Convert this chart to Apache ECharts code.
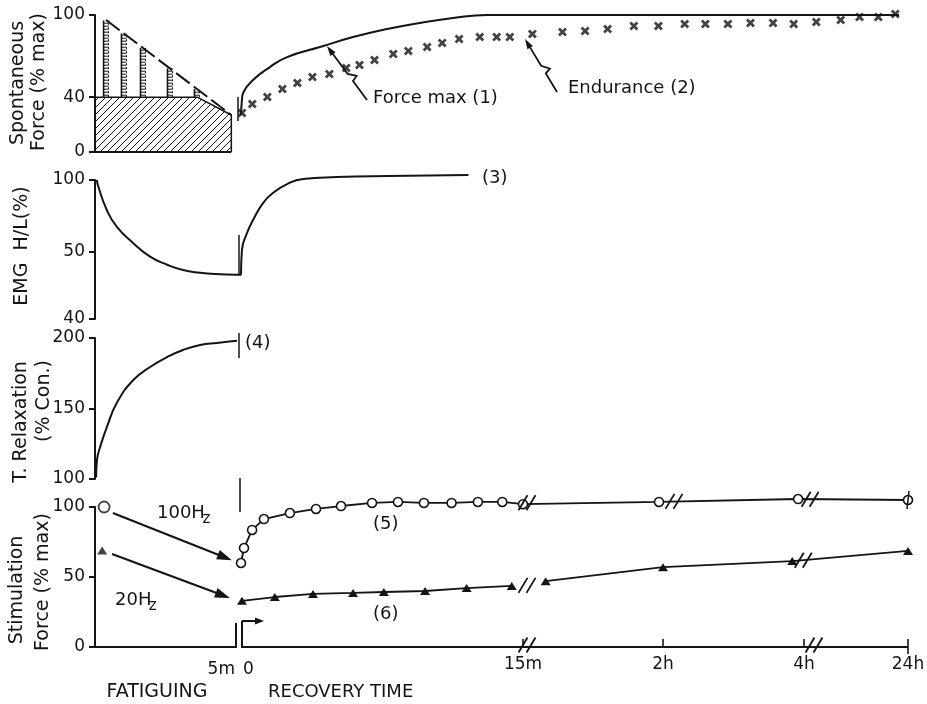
<!DOCTYPE html>
<html><head><meta charset="utf-8">
<script src="https://cdn.jsdelivr.net/npm/echarts/dist/echarts.min.js"></script>
<style>html,body{margin:0;padding:0;background:#fff}#c{width:927px;height:704px}</style>
</head><body><div id="c"></div>
<script>
// ---------------- DATA ----------------
// Panel 1 : spontaneous force (% max) during fatiguing (time in min, 0..5)
const fatigueBarTimes = [0.39, 1.02, 1.69, 2.64, 3.59];
const fatigueBarPeaks = [96, 86.5, 76, 61, 46];
const fatigueBaseLevel = 40;
const hatchTimes = [0, 3.6, 4.8, 4.8];
const hatchValues = [40, 40, 27, 0];
const peakTrendTimes = [0.39, 4.8];
const peakTrendValues = [96.4, 27];
// Panel 1 : recovery (relative recovery time, min)
const forceMaxTimes = [0, 0.05, 0.11, 0.64, 1.54, 2.45, 4.2, 5.96, 7.77, 9.52, 11.28, 13.1, 15, 35];
const forceMaxValues = [27, 38, 43, 52.5, 62, 69.3, 76.6, 83.9, 89.8, 94.2, 97.8, 100, 100, 100];
const enduranceTimes = [0.05,0.6,1.4,2.2,3.0,3.8,4.7,5.6,6.3,7.1,8.1,8.9,9.9,10.7,11.6,12.7,13.6,14.3,15.5,17.1,18.3,19.5,20.9,22.2,23.6,24.7,25.9,27.1,28.3,29.4,30.6,31.9,32.9,33.9,34.8];
const enduranceValues = [28.5,35,40.1,46,50.4,54.7,56.9,61.3,63.5,67.2,71.5,73.7,76.6,79.6,82.5,83.9,83.9,83.9,86.1,87.6,88.3,89.8,92,92,93.4,93.4,93.4,94.2,94.2,93.4,94.9,96.4,98.5,98.5,100.7];
// Panel 2 : EMG H/L (%)
const emgFatigueTimes = [0.07, 0.1, 0.42, 0.77, 1.34, 1.94, 2.54, 3.1, 3.7, 4.23, 5];
const emgFatigueValues = [100, 96.5, 79, 67.4, 56.3, 49.3, 48.1, 47.3, 46.9, 46.7, 46.6];
const emgRecoveryTimes = [0, 0.05, 0.32, 0.64, 1.17, 1.7, 2.45, 3.3, 5.1, 7.8, 12.1];
const emgRecoveryValues = [46.6, 51.4, 63.2, 72.2, 84, 91, 97.2, 100.7, 102, 102.8, 103.5];
const emgTicks = [40, 50, 100];
// Panel 3 : T. relaxation (% control)
const relaxTimes = [0.04, 0.07, 0.18, 0.42, 0.77, 1.34, 1.94, 2.54, 3.1, 3.7, 4.3, 5];
const relaxValues = [101, 113.5, 122.7, 137, 154, 170, 179.4, 186.5, 191.5, 195, 196.5, 198];
// Panel 4 : stimulation force (% max); recovery time in minutes (broken axis)
const hz100StartTime = 0.32, hz100StartValue = 100;
const hz100RecTimes = [0, 0.16, 0.59, 1.22, 2.6, 3.99, 5.32, 6.97, 8.35, 9.73, 11.2, 12.6, 13.9, 15, 117, 235, 1440];
const hz100RecValues = [60, 70.7, 83.6, 91.4, 95.7, 98.6, 100.7, 102.9, 103.6, 102.9, 102.9, 103.6, 103.6, 102, 103.6, 105.7, 105];
const hz20StartTime = 0.25, hz20StartValue = 69;
const hz20RecTimesA = [0.05, 1.8, 3.83, 5.96, 7.6, 9.79, 12.0, 14.4];
const hz20RecValuesA = [33, 35.7, 37.9, 38.6, 39.3, 40, 42.1, 43.6];
const hz20RecTimesB = [32, 120, 230, 1440];
const hz20RecValuesB = [47, 57, 61.4, 68.6];
const recoveryTickMinutes = [15, 120, 240, 1440];
const recoveryTickLabels = ['15m', '2h', '4h', '24h'];
const yTicksP1 = [0, 40, 100];
const yTicksP3 = [100, 150, 200];
const yTicksP4 = [0, 50, 100];

// ---------------- SCALES ----------------
const INK = '#141414';
const FONT = '"DejaVu Sans", sans-serif';
const xF = t => t * 28.4;                 // fatiguing 0..5 min
const xR = r => 146 + r * 18.8;           // recovery (panels 1-3)
const x4 = m => m <= 15 ? 146 + m * 18.8
  : m <= 120 ? 428 + (m - 15) / 105 * 140
  : m <= 240 ? 568 + (m - 120) / 120 * 141
  : 709 + (m - 240) / 1200 * 104;         // broken recovery axis (panel 4)
const emgY = v => v < 50 ? (v - 40) * 6.7 : 67 + (v - 50) * 1.44;
const zip = (xs, ys, fx, fy) => xs.map((x, i) => [fx(x), fy ? fy(ys[i]) : ys[i]]);

function hatchPattern() {
  const c = document.createElement('canvas'); c.width = c.height = 7;
  const g = c.getContext('2d'); g.strokeStyle = INK; g.lineWidth = 1;
  g.beginPath(); g.moveTo(0, 7); g.lineTo(7, 0); g.moveTo(-1, 1); g.lineTo(1, -1); g.moveTo(6, 8); g.lineTo(8, 6); g.stroke();
  return c;
}
const crossPath = 'path://M0,2.2L2.2,0L5,2.8L7.8,0L10,2.2L7.2,5L10,7.8L7.8,10L5,7.2L2.2,10L0,7.8L2.8,5Z';

function yAx(grid, min, max, vals, fmt) {
  return {
    gridIndex: grid, type: 'value', min, max,
    axisLine: {show: true, lineStyle: {color: INK, width: 2}},
    axisTick: {show: true, length: 6, lineStyle: {color: INK, width: 2}, customValues: vals},
    axisLabel: {customValues: vals, formatter: fmt || (v => String(v)), color: INK, fontSize: 17, fontFamily: FONT, margin: 10},
    splitLine: {show: false}
  };
}
const lineS = (grid, data, extra) => Object.assign({
  type: 'line', xAxisIndex: grid, yAxisIndex: grid, data, symbol: 'none', clip: false,
  lineStyle: {color: INK, width: 2}, z: 3
}, extra || {});

const emgLabelMap = {};
emgTicks.forEach(v => { emgLabelMap[Math.round(emgY(v))] = String(v); });

const option = {
  animation: false, backgroundColor: '#fff',
  grid: [
    {left: 95, width: 813, top: 15, height: 137},
    {left: 95, width: 813, top: 180, height: 139},
    {left: 95, width: 813, top: 338, height: 141},
    {left: 95, width: 813, top: 507, height: 140}
  ],
  xAxis: [0, 1, 2, 3].map(i => ({gridIndex: i, type: 'value', min: 0, max: 813, show: false})),
  yAxis: [
    yAx(0, 0, 100, yTicksP1),
    yAx(1, 0, Math.round(emgY(100)), emgTicks.map(v => Math.round(emgY(v))), v => emgLabelMap[Math.round(v)] || ''),
    yAx(2, 100, 200, yTicksP3),
    yAx(3, 0, 100, yTicksP4)
  ],
  series: [
    // Panel 1
    lineS(0, zip(hatchTimes, hatchValues, xF), {lineStyle: {color: INK, width: 1.5},
      areaStyle: {color: {image: hatchPattern(), repeat: 'repeat'}, opacity: 1}}),
    lineS(0, [[xF(0), 0], [xF(4.8), 0]]),
    {
      type: 'custom', xAxisIndex: 0, yAxisIndex: 0, clip: false, z: 4,
      data: zip(fatigueBarTimes, fatigueBarPeaks, xF),
      renderItem(params, api) {
        const top = api.coord([api.value(0), api.value(1)]);
        const base = api.coord([api.value(0), fatigueBaseLevel]);
        const w = 5, x0 = top[0] - w / 2;
        const ch = [
          {type: 'line', shape: {x1: x0, y1: base[1], x2: x0, y2: top[1]}, style: {stroke: INK, lineWidth: 1.6}},
          {type: 'line', shape: {x1: x0 + w, y1: base[1], x2: x0 + w, y2: top[1]}, style: {stroke: INK, lineWidth: 1, lineDash: [2, 2]}}
        ];
        for (let y = base[1] - 2; y > top[1] + 1; y -= 3)
          ch.push({type: 'line', shape: {x1: x0, y1: y, x2: x0 + w, y2: y}, style: {stroke: INK, lineWidth: 1}});
        return {type: 'group', children: ch};
      }
    },
    lineS(0, zip(peakTrendTimes, peakTrendValues, xF), {lineStyle: {color: INK, width: 2, type: [17, 5]}}),
    lineS(0, zip(forceMaxTimes, forceMaxValues, xR), {smooth: 0.5}),
    {type: 'scatter', xAxisIndex: 0, yAxisIndex: 0, clip: false, symbol: crossPath, symbolSize: 9,
      itemStyle: {color: INK}, data: zip(enduranceTimes, enduranceValues, xR), z: 5},
    // Panel 2
    lineS(1, zip(emgFatigueTimes, emgFatigueValues, xF, emgY), {smooth: 0.5}),
    lineS(1, [[xF(5), emgY(46.6)], [xR(0), emgY(46.6)]]),
    lineS(1, zip(emgRecoveryTimes, emgRecoveryValues, xR, emgY), {smooth: 0.5}),
    // Panel 3
    lineS(2, zip(relaxTimes, relaxValues, xF), {smooth: 0.5}),
    // Panel 4
    lineS(3, [[xF(0), 0], [xF(5), 0]]),
    lineS(3, [[x4(0), 0], [x4(1440), 0]]),
    lineS(3, zip(hz100RecTimes, hz100RecValues, x4), {symbol: 'circle', symbolSize: 9, showSymbol: true, z: 5,
      lineStyle: {color: INK, width: 1.8}, itemStyle: {color: '#fff', borderColor: INK, borderWidth: 1.6}}),
    lineS(3, zip(hz20RecTimesA, hz20RecValuesA, x4), {symbol: 'triangle', symbolSize: [10, 8], showSymbol: true, z: 5,
      lineStyle: {color: INK, width: 1.8}, itemStyle: {color: INK}}),
    lineS(3, zip(hz20RecTimesB, hz20RecValuesB, x4), {symbol: 'triangle', symbolSize: [10, 8], showSymbol: true, z: 5,
      lineStyle: {color: INK, width: 1.8}, itemStyle: {color: INK}}),
    {type: 'scatter', xAxisIndex: 3, yAxisIndex: 3, clip: false, symbol: 'circle', symbolSize: 11, z: 5,
      itemStyle: {color: '#fff', borderColor: INK, borderWidth: 1.8}, data: [[xF(hz100StartTime), hz100StartValue]]},
    {type: 'scatter', xAxisIndex: 3, yAxisIndex: 3, clip: false, symbol: 'triangle', symbolSize: [10, 8], z: 5,
      itemStyle: {color: INK}, data: [[xF(hz20StartTime), hz20StartValue]]}
  ]
};

const chart = echarts.init(document.getElementById('c'));
chart.setOption(option);

// ---------------- ANNOTATIONS ----------------
const P = (g, x, y) => chart.convertToPixel({gridIndex: g}, [x, y]);
const G = [];
const txt = (text, x, y, size, align, rot) => G.push({type: 'text', x, y, rotation: rot || 0, z: 10,
  style: {text, fill: INK, font: `${size}px ${FONT}`, align: align || 'left', verticalAlign: 'middle'}});
const seg = (x1, y1, x2, y2, w) => G.push({type: 'line', z: 10, shape: {x1, y1, x2, y2}, style: {stroke: INK, lineWidth: w || 2}});
function arrow(pts, w, hl, hw) {
  const a = pts[pts.length - 2], b = pts[pts.length - 1], ang = Math.atan2(b[1] - a[1], b[0] - a[0]);
  const end = [b[0] - hl * 0.8 * Math.cos(ang), b[1] - hl * 0.8 * Math.sin(ang)];
  G.push({type: 'polyline', z: 10, shape: {points: pts.slice(0, -1).concat([end])}, style: {stroke: INK, lineWidth: w, fill: null}});
  const bx = b[0] - hl * Math.cos(ang), by = b[1] - hl * Math.sin(ang);
  const px = -Math.sin(ang) * hw, py = Math.cos(ang) * hw;
  G.push({type: 'polygon', z: 10, shape: {points: [b, [bx + px, by + py], [bx - px, by - py]]}, style: {fill: INK}});
}
function brk(cx, cy, h) {
  [-4, 4].forEach(o => seg(cx + o - h * 0.3, cy + h / 2, cx + o + h * 0.3, cy - h / 2, 1.8));
}
function bolt(a, e) {
  const v = [e[0] - a[0], e[1] - a[1]];
  const L = Math.hypot(v[0], v[1]); const u = [v[0] / L, v[1] / L]; const p = [-u[1], u[0]];
  const b = [a[0] + v[0] * 0.35, a[1] + v[1] * 0.35];
  const c = [b[0] + p[0] * 6 + u[0] * 2, b[1] + p[1] * 6 + u[1] * 2];
  const d = [c[0] + u[0] * 7 - p[0] * 6, c[1] + u[1] * 7 - p[1] * 6];
  arrow([a, b, c, d, e], 1.8, 10, 3.2);
}

// y-axis titles
txt('Spontaneous', 18, 83, 19, 'center', Math.PI / 2);
txt('Force (% max)', 39, 82, 19, 'center', Math.PI / 2);
txt('EMG  H/L(%)', 22, 246, 19, 'center', Math.PI / 2);
txt('T. Relaxation', 21, 422, 19, 'center', Math.PI / 2);
txt('(% Con.)', 44, 401, 19, 'center', Math.PI / 2);
txt('Stimulation', 17, 590, 19, 'center', Math.PI / 2);
txt('Force (% max)', 43, 582, 19, 'center', Math.PI / 2);

// panel 1 annotations
txt('Force max (1)', 373, 98, 18);
txt('Endurance (2)', 568, 88, 18);
bolt([367, 100], [327, 46]);
bolt([557, 92], [525, 39]);
// recovery start marks
const r1 = P(0, xR(0), 0), r2 = P(1, xR(0), 0), r3 = P(2, xR(0), 100), r4 = P(3, x4(0), 0);
seg(r1[0] - 3, 97, r1[0] - 3, 121, 1.5);
seg(r2[0] - 2, 235, r2[0] - 2, 275, 1.5);
seg(r3[0] - 2, 333, r3[0] - 2, 358, 1.5);
seg(r4[0] - 1, 478, r4[0] - 1, 512, 1.5);
txt('(3)', 482, 178, 18);
txt('(4)', 245, 343, 18);

// panel 4 annotations
const hzLabel = (x, y, num) => { txt(num + 'H', x, y, 18); txt('z', x + (num.length + 1) * 11.6 - 1, y + 6, 15); };
hzLabel(157, 513, '100');
hzLabel(115, 600, '20');
txt('(5)', 373, 524, 18);
txt('(6)', 373, 614, 18);
arrow([P(3, xF(0.63), 95.7), P(3, xF(4.82), 62)], 2, 15, 5);
arrow([P(3, xF(0.6), 66.4), P(3, xF(4.75), 35)], 2, 15, 5);
// bottom axis decorations
const ay = P(3, 0, 0)[1];
const fe = P(3, xF(5), 0)[0];
seg(fe - 1, ay - 24, fe - 1, ay, 2);
const rs = P(3, x4(0), 0)[0];
seg(rs + 1, ay, rs + 1, ay - 26, 2);
arrow([[rs + 1, ay - 26], [rs + 23, ay - 26]], 2, 9, 3.5);
recoveryTickMinutes.forEach((m, i) => {
  const px = P(3, x4(m), 0)[0];
  seg(px, ay - 8, px, i === 3 ? ay + 7 : ay, 1.6);
  txt(recoveryTickLabels[i], px, ay + 18, 17, 'center');
});
brk(P(3, x4(15), 0)[0] + 4, ay - 2, 15);
brk(P(3, x4(240), 0)[0] + 10, ay - 2, 15);
// data line breaks
brk(P(3, x4(15), 0)[0] + 4, P(3, 0, 103)[1], 15);
brk(P(3, x4(117), 0)[0] + 15, P(3, 0, 104)[1], 15);
brk(P(3, x4(235), 0)[0] + 12, P(3, 0, 105.5)[1], 15);
brk(P(3, x4(15), 0)[0] + 4, P(3, 0, 44)[1], 15);
brk(P(3, x4(230), 0)[0] + 11, P(3, 0, 62)[1], 15);
const e24 = P(3, x4(1440), 105);
seg(e24[0] + 1, e24[1] - 9, e24[0] - 1, e24[1] + 9, 1.5);
txt('5m', fe - 2, ay + 23, 17, 'right');
txt('0', rs + 2, ay + 23, 17, 'left');
txt('FATIGUING', 157, 692, 19, 'center');
txt('RECOVERY TIME', 268, 692, 18, 'left');

chart.setOption({graphic: {elements: G}});
</script></body></html>
